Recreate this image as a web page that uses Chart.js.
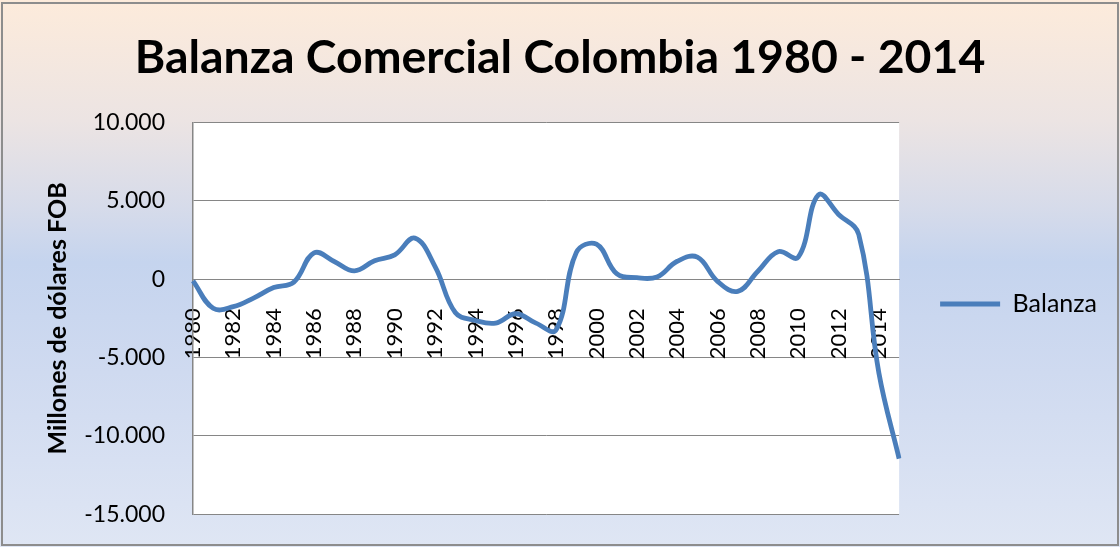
<!DOCTYPE html>
<html>
<head>
<meta charset="utf-8">
<script src="https://cdn.jsdelivr.net/npm/chart.js@4.4.1/dist/chart.umd.min.js"></script>
<style>
	html, body { margin: 0; padding: 0; }
	#wrap {
		position: relative;
		width: 1120px;
		height: 547px;
		background: linear-gradient(to bottom, #fdebdb 0%, #ece4e3 22%, #d6dbea 38%, #c5d4ee 48%, #cfdaf0 68%, #dfe6f4 100%);
	}
	#frame {
		position: absolute;
		left: 1px; top: 2px;
		width: 1114px; height: 540px;
		border: 2px solid #8d8d8d;
		pointer-events: none;
	}
	canvas { position: absolute; left: 0; top: 0; }
</style>
</head>
<body>
<div id="wrap">
	<canvas id="chart_one" width="1120" height="547"></canvas>
	<div id="frame"></div>
</div>
<script>
// years on the category axis (Excel skips every other label)
var years = ["1980","1981","1982","1983","1984","1985","1986","1987","1988","1989",
	"1990","1991","1992","1993","1994","1995","1996","1997","1998","1999",
	"2000","2001","2002","2003","2004","2005","2006","2007","2008","2009",
	"2010","2011","2012","2013","2014","2015"];

// trade balance, millions of USD FOB
var balanza = [-100, -1850, -1750, -1200, -530, -180, 1690, 1140, 540, 1180,
	1560, 2630, 810, -2120, -2630, -2800, -2200, -2800, -3230, 1710,
	2240, 360, 100, 150, 1150, 1410, -130, -770, 510, 1760,
	1410, 5390, 4140, 2860, -6000, -11450];

var yTicks = [-15000, -10000, -5000, 0, 5000, 10000];

var fmt = (v) => {
	var s = Math.abs(v).toString().replace(/\B(?=(\d{3})+(?!\d))/g, ".");
	return (v < 0 ? "-" : "") + s;
};

// white plot area like the Excel chart
var plotBg = {
	id: "plotBg",
	beforeDraw: (chart) => {
		var a = chart.chartArea;
		var ctx = chart.ctx;
		ctx.save();
		ctx.fillStyle = "#ffffff";
		ctx.fillRect(a.left, a.top, a.right - a.left, a.bottom - a.top);
		ctx.restore();
	}
};

var ctx_one = document.getElementById("chart_one").getContext("2d");

var chart_one = new Chart(ctx_one, {
	type: "line",
	data: {
		labels: years,
		datasets: [
			{
				label: "Balanza",
				data: balanza,
				borderColor: "#4a7ebb",
				backgroundColor: "#4a7ebb",
				borderWidth: 4.8,
				pointRadius: 0,
				tension: 0.4,
				fill: false
			}
		]
	},
	options: {
		responsive: false,
		animation: false,
		layout: {
			// negative bottom only moves the full-height legend down,
			// the plot bottom is held by the y axis label padding
			padding: { left: 13, right: 13, top: 0, bottom: -61 }
		},
		plugins: {
			title: {
				display: true,
				text: "Balanza Comercial Colombia 1980 - 2014",
				color: "#000000",
				font: { family: "Lato", size: 46.4, weight: "bold" },
				padding: { top: 30, bottom: 37 }
			},
			legend: {
				position: "right",
				labels: {
					usePointStyle: true,
					pointStyle: "line",
					pointStyleWidth: 60,
					padding: 41,
					color: "#000000",
					font: { family: "Lato", size: 25 }
				}
			},
			tooltip: { enabled: false }
		},
		scales: {
			x: {
				position: { y: 0 },
				afterFit: (s) => { s.height = 0; },
				grid: { display: false },
				border: { display: true, color: "#868686", width: 1 },
				ticks: {
					autoSkip: false,
					minRotation: 90,
					maxRotation: 90,
					padding: 21,
					color: "#000000",
					font: { family: "Lato", size: 22 },
					callback: function(val, i) {
						return i % 2 === 0 ? this.getLabelForValue(val) : "";
					}
				}
			},
			y: {
				min: yTicks[0],
				max: yTicks[yTicks.length - 1],
				afterFit: (s) => { s.width = 180; },
				grid: { color: "#868686", lineWidth: 1, drawTicks: true, tickLength: 9, tickColor: "rgba(0,0,0,0)" },
				border: { display: true, color: "#868686", width: 1.5 },
				ticks: {
					stepSize: 5000,
					padding: 19,
					color: "#000000",
					font: { family: "Lato", size: 23 },
					callback: (v) => fmt(v)
				},
				title: {
					display: true,
					text: "Millones de dólares FOB",
					color: "#000000",
					font: { family: "Lato", size: 25, weight: "bold" },
					padding: { top: 30, bottom: 0 }
				}
			}
		}
	},
	plugins: [plotBg]
});
</script>
</body>
</html>
